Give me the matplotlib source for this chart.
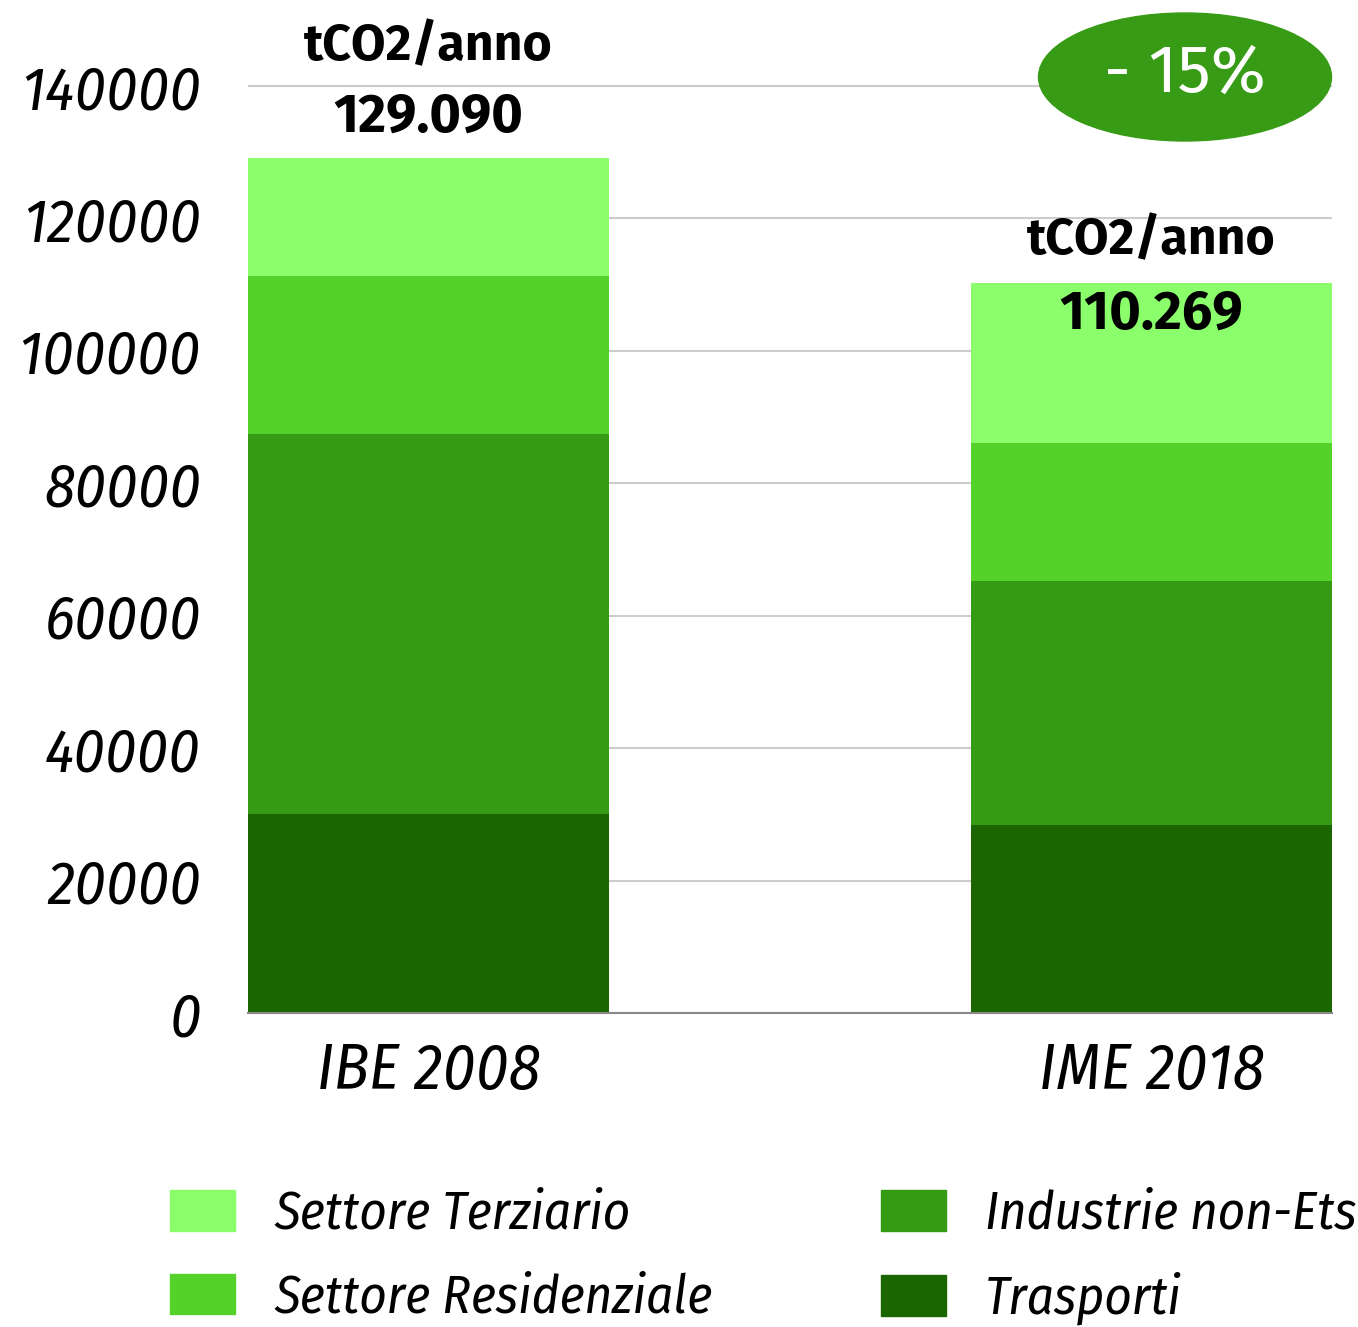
import matplotlib.pyplot as plt
from matplotlib.patches import Ellipse, Patch

# data
categories = ["IBE 2008", "IME 2018"]
sectors = ["Trasporti", "Industrie non-Ets", "Settore Residenziale", "Settore Terziario"]
trasporti = [30050, 28400]
industrie = [57400, 36850]
residenziale = [23860, 20840]
terziario = [17780, 24179]
totals_txt = ["129.090", "110.269"]
totals = [129090, 110269]
yticks = [0, 20000, 40000, 60000, 80000, 100000, 120000, 140000]

colors = ["#1b6600", "#369b14", "#54d22a", "#8aff6b"]

cond = ["Fira Sans Condensed", "Liberation Sans", "DejaVu Sans"]
fira = ["Fira Sans", "Open Sans", "DejaVu Sans"]

fig = plt.figure(figsize=(13.58, 13.27), dpi=100)
ax = fig.add_axes([248 / 1358, 1 - 1013 / 1327, 1084 / 1358, 1013 / 1327])

series = [trasporti, industrie, residenziale, terziario]
x = range(len(categories))
bottom = [0, 0]
for vals, c in zip(series, colors):
    ax.bar(x, vals, width=0.5, bottom=bottom, color=c, zorder=2)
    bottom = [b + v for b, v in zip(bottom, vals)]

ax.set_xlim(-0.25, 1.25)
ax.set_ylim(0, 153000)
ax.set_yticks(yticks)
ax.set_yticklabels([str(t) for t in yticks], fontfamily=cond, fontstyle="italic", fontsize=44)
ax.set_xticks(list(x))
ax.set_xticklabels(categories, fontfamily=cond, fontstyle="italic", fontsize=46)
ax.tick_params(axis="y", length=0, pad=34)
ax.tick_params(axis="x", length=0, pad=20)
ax.grid(axis="y", color="#cccccc", linewidth=1.5, zorder=0)
for s in ["top", "right", "left"]:
    ax.spines[s].set_visible(False)
ax.spines["bottom"].set_color("#888888")
ax.spines["bottom"].set_linewidth(1.5)
ax.spines["bottom"].set_zorder(3)

# total labels (pixel offsets from bar top)
offsets = [(111, 41), (42, -31)]
for i, (tot, txt) in enumerate(zip(totals, totals_txt)):
    o1, o2 = offsets[i]
    ax.annotate("tCO2/anno", xy=(i, tot), xytext=(0, o1 * 0.72), textcoords="offset points",
                ha="center", va="center", fontsize=36, fontweight="bold",
                fontfamily=fira, annotation_clip=False, zorder=4)
    ax.annotate(txt, xy=(i, tot), xytext=(0, o2 * 0.72), textcoords="offset points",
                ha="center", va="center", fontsize=39, fontweight="bold",
                fontfamily=fira, annotation_clip=False, zorder=4)

# -15% badge
ell = Ellipse((1185 / 1358, 1 - 77 / 1327), 293 / 1358, 128 / 1327,
              transform=fig.transFigure, color="#379b15", zorder=5)
fig.patches.append(ell)
fig.text(1185 / 1358, 1 - 74 / 1327, "- 15%", color="white", fontsize=48,
         fontfamily=fira, ha="center", va="center", zorder=6)

# legend
handles = [Patch(color=colors[3]), Patch(color=colors[2]), Patch(color=colors[1]), Patch(color=colors[0])]
labels = [sectors[3], sectors[2], sectors[1], sectors[0]]
fig.legend(handles, labels, ncol=2, loc="center left", bbox_to_anchor=(170 / 1358, 1 - 1257 / 1327),
           frameon=False, prop={"family": cond, "style": "italic", "size": 38},
           handlelength=1.23, handleheight=0.81, handletextpad=0.74,
           columnspacing=3.2, labelspacing=0.6, borderpad=0, borderaxespad=0)

fig.savefig("out.png", dpi=100)
